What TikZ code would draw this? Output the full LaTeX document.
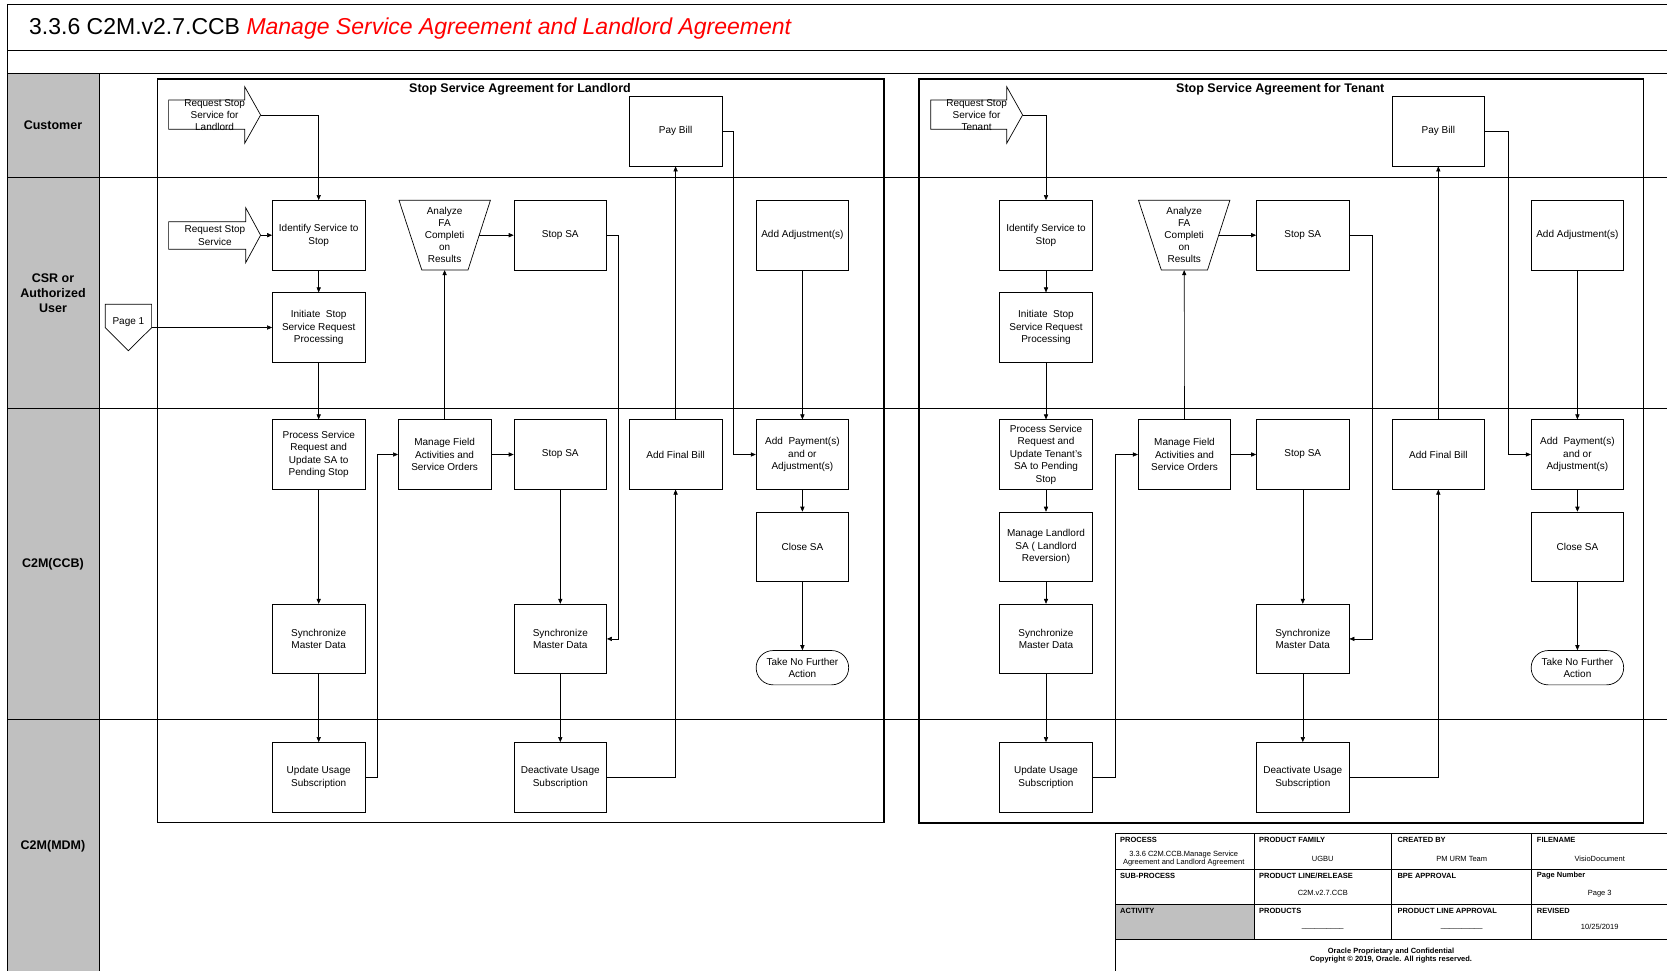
\documentclass[tikz,border=0pt]{standalone}
\usepackage{fontspec}
\setmainfont{Liberation Sans}
\usetikzlibrary{arrows.meta,calc}
\definecolor{hdrgray}{RGB}{192,192,192}
\begin{document}
\begin{tikzpicture}[x=1pt,y=-1pt,
  box/.style={draw, line width=0.7pt, minimum width=92.5pt, minimum height=69.5pt, inner sep=0pt, align=center, font=\fontsize{10}{12.5}\selectfont},
  txt/.style={inner sep=0pt, align=center, font=\fontsize{10}{12}\selectfont},
  shp/.style={draw, line width=0.7pt},
  arr/.style={-{Triangle[length=5pt,width=4.2pt]}, line width=0.6pt},
  lane/.style={line width=1pt},
  pool/.style={draw, line width=1.3pt},
  lanelbl/.style={inner sep=0pt, align=center, font=\bfseries\fontsize{12.5}{15}\selectfont},
  pooltitle/.style={inner sep=0pt, font=\bfseries\fontsize{12.5}{15}\selectfont},
  th/.style={inner sep=0pt, anchor=west, font=\bfseries\fontsize{7.5}{9}\selectfont},
  tv/.style={inner sep=0pt, align=center, font=\fontsize{7.5}{8.3}\selectfont},
  tbl/.style={line width=0.8pt}
]
\useasboundingbox (0,0) rectangle (1667,971);
\fill[white] (0,0) rectangle (1667,971);

% ---------- frame, title, lanes ----------
\fill[hdrgray] (7,73.3) rectangle (99.5,971);
\draw[lane] (7,4.3) -- (1667,4.3);
\draw[lane] (7,50.7) -- (1667,50.7);
\draw[lane] (7,73.3) -- (1667,73.3);
\draw[lane] (7,177.3) -- (1667,177.3);
\draw[lane] (7,408.3) -- (1667,408.3);
\draw[lane] (7,719.7) -- (1667,719.7);
\draw[lane] (7,4.3) -- (7,971);
\draw[lane] (99.5,73.3) -- (99.5,971);

\node[anchor=base west, inner sep=0pt, font=\fontsize{23}{27}\selectfont] (title) at (29,35)
  {3.3.6 C2M.v2.7.CCB \textcolor{red}{\itshape Manage Service Agreement and Landlord Agreement}};

\node[lanelbl] (lcust) at (53,125.3) {Customer};
\node[lanelbl] (lcsr) at (53,292.8) {CSR or\\Authorized\\User};
\node[lanelbl] (lccb) at (53,564) {C2M(CCB)};
\node[lanelbl] (lmdm) at (53,846) {C2M(MDM)};

% ---------- pools ----------
\draw[pool] (157.3,79) rectangle (884,822.5);
\draw[pool] (919,79) rectangle (1643.2,823);
\node[pooltitle] (p1t) at (520,89) {Stop Service Agreement for Landlord};
\node[pooltitle] (p2t) at (1280.3,89) {Stop Service Agreement for Tenant};

% ================= POOL 1 (Landlord) =================
% request arrows
\draw[shp] (168.6,100) -- (244.7,100) -- (244.7,86.7) -- (260.6,115) -- (244.7,143.3) -- (244.7,129.3) -- (168.6,129.3) -- cycle;
\node[txt] (reqL) at (214.6,115) {Request Stop\\Service for\\Landlord};
\coordinate (reqLtip) at (260.6,115);

\draw[shp] (168.6,221.7) -- (245.7,221.7) -- (245.7,207.7) -- (260.6,235.2) -- (245.7,262.7) -- (245.7,249.3) -- (168.6,249.3) -- cycle;
\node[txt, font=\fontsize{10}{13}\selectfont] (reqS) at (214.9,235.2) {Request Stop\\Service};
\coordinate (reqStip) at (260.6,235.2);

% off-page connector
\draw[shp] (105.3,304.3) -- (151.6,304.3) -- (151.6,327.7) -- (128.4,350.7) -- (105.3,327.7) -- cycle;
\node[txt] (page1) at (128.4,321.7) {Page 1};
\coordinate (p1r) at (151.6,327.5);

% boxes
\node[box] (identL) at (318.7,235.2) {Identify Service to\\Stop};
\node[box] (initL) at (318.7,327.5) {Initiate\ \ Stop\\Service Request\\Processing};
\node[txt, minimum width=92.5pt, minimum height=69.5pt] (anL) at (444.6,235.2) {Analyze\\FA\\Completi\\on\\Results};
\draw[shp] (399,200.3) -- (490.4,200.3) -- (468,270) -- (421.8,270) -- cycle;
\coordinate (anLr) at (479.2,235.2);
\node[box] (stopAL) at (560.3,235.2) {Stop SA};
\node[box] (payL) at (675.6,131.3) {Pay Bill};
\node[box] (adjL) at (802.4,235.2) {Add Adjustment(s)};

\node[box] (procL) at (318.7,454.5) {Process Service\\Request and\\Update SA to\\Pending Stop};
\node[box] (mfaL) at (444.6,454.5) {Manage Field\\Activities and\\Service Orders};
\node[box] (stopBL) at (560.3,454.5) {Stop SA};
\node[box] (afbL) at (675.6,454.5) {Add Final Bill};
\node[box] (addpL) at (802.4,454.5) {Add\ \ Payment(s)\\and or\\Adjustment(s)};
\node[box] (closeL) at (802.4,546.8) {Close SA};
\node[box] (sync1L) at (318.7,638.9) {Synchronize\\Master Data};
\node[box] (sync2L) at (560.3,638.9) {Synchronize\\Master Data};
\node[box, minimum height=34.3pt, rounded corners=17pt, font=\fontsize{10}{12}\selectfont] (takeL) at (802.4,667.7) {Take No Further\\Action};
\node[box] (updL) at (318.7,777.2) {Update Usage\\Subscription};
\node[box] (deaL) at (560.3,777.2) {Deactivate Usage\\Subscription};

% connectors
\draw[arr] (reqLtip) -| (identL.north);
\draw[arr] (reqStip) -- (identL.west);
\draw[arr] (identL) -- (initL);
\draw[arr] (p1r) -- (initL.west);
\draw[arr] (initL) -- (procL);
\draw[arr] (anLr) -- (stopAL.west);
\draw[arr] (mfaL.north) -- (anL.south);
\draw[arr] (mfaL) -- (stopBL);
\draw[arr] (procL) -- (sync1L);
\draw[arr] (sync1L) -- (updL);
\draw[arr] (updL.east) -- ++(11.5,0) |- (mfaL.west);
\draw[arr] (stopBL) -- (sync2L);
\draw[arr] (sync2L) -- (deaL);
\draw[arr] (stopAL.east) -- ++(11.3,0) |- (sync2L.east);
\draw[arr] (deaL.east) -| (afbL.south);
\draw[arr] (afbL) -- (payL);
\draw[arr] (payL.east) -- ++(11.3,0) |- (addpL.west);
\draw[arr] (adjL) -- (addpL);
\draw[arr] (addpL) -- (closeL);
\draw[arr] (closeL) -- (takeL);

% ================= POOL 2 (Tenant) =================
\draw[shp] (930.7,100) -- (1006.7,100) -- (1006.7,86.7) -- (1022.6,115) -- (1006.7,143.3) -- (1006.7,129.3) -- (930.7,129.3) -- cycle;
\node[txt] (reqT) at (976.6,115) {Request Stop\\Service for\\Tenant};
\coordinate (reqTtip) at (1022.6,115);

\node[box] (identT) at (1046,235.2) {Identify Service to\\Stop};
\node[box] (initT) at (1046,327.5) {Initiate\ \ Stop\\Service Request\\Processing};
\node[txt, minimum width=92.5pt, minimum height=69.5pt] (anT) at (1184.2,235.2) {Analyze\\FA\\Completi\\on\\Results};
\draw[shp] (1138.5,200.3) -- (1229.9,200.3) -- (1207.5,270) -- (1161.3,270) -- cycle;
\coordinate (anTr) at (1218.7,235.2);
\node[box] (stopAT) at (1302.8,235.2) {Stop SA};
\node[box] (payT) at (1438.3,131.3) {Pay Bill};
\node[box] (adjT) at (1577.4,235.2) {Add Adjustment(s)};

\node[box] (procT) at (1046,454.5) {Process Service\\Request and\\Update Tenant’s\\SA to Pending\\Stop};
\node[box] (mlsT) at (1046,546.8) {Manage Landlord\\SA ( Landlord\\Reversion)};
\node[box] (mfaT) at (1184.5,454.5) {Manage Field\\Activities and\\Service Orders};
\node[box] (stopBT) at (1302.8,454.5) {Stop SA};
\node[box] (afbT) at (1438.3,454.5) {Add Final Bill};
\node[box] (addpT) at (1577.4,454.5) {Add\ \ Payment(s)\\and or\\Adjustment(s)};
\node[box] (closeT) at (1577.4,546.8) {Close SA};
\node[box] (sync1T) at (1046,638.9) {Synchronize\\Master Data};
\node[box] (sync2T) at (1302.8,638.9) {Synchronize\\Master Data};
\node[box, minimum height=34.3pt, rounded corners=17pt, font=\fontsize{10}{12}\selectfont] (takeT) at (1577.4,667.7) {Take No Further\\Action};
\node[box] (updT) at (1046,777.2) {Update Usage\\Subscription};
\node[box] (deaT) at (1302.8,777.2) {Deactivate Usage\\Subscription};

\draw[arr] (reqTtip) -| (identT.north);
\draw[arr] (identT) -- (initT);
\draw[arr] (initT) -- (procT);
\draw[arr] (anTr) -- (stopAT.west);
\draw[arr] (mfaT.north) -- (anT.south);
\draw[arr] (mfaT) -- (stopBT);
\draw[arr] (procT) -- (mlsT);
\draw[arr] (mlsT) -- (sync1T);
\draw[arr] (sync1T) -- (updT);
\draw[arr] (updT.east) -- ++(22.6,0) |- (mfaT.west);
\draw[arr] (stopBT) -- (sync2T);
\draw[arr] (sync2T) -- (deaT);
\draw[arr] (stopAT.east) -- ++(22.9,0) |- (sync2T.east);
\draw[arr] (deaT.east) -| (afbT.south);
\draw[arr] (afbT) -- (payT);
\draw[arr] (payT.east) -- ++(23.2,0) |- (addpT.west);
\draw[arr] (adjT) -- (addpT);
\draw[arr] (addpT) -- (closeT);
\draw[arr] (closeT) -- (takeT);

% ================= title block table =================
\fill[hdrgray] (1115,904) rectangle (1254,939);
\draw[tbl] (1115,833.7) -- (1667,833.7);
\draw[tbl] (1115,869.7) -- (1667,869.7);
\draw[tbl] (1115,904) -- (1667,904);
\draw[tbl] (1115,939) -- (1667,939);
\draw[tbl] (1115,833.7) -- (1115,971);
\draw[tbl] (1254,833.7) -- (1254,939);
\draw[tbl] (1391.7,833.7) -- (1391.7,939);
\draw[tbl] (1531.7,833.7) -- (1531.7,939);

\node[th] (h11) at (1120,840.3) {PROCESS};
\node[th] (h12) at (1259,840.3) {PRODUCT FAMILY};
\node[th] (h13) at (1397.3,840.3) {CREATED BY};
\node[th] (h14) at (1536.7,840.3) {FILENAME};
\node[th] (h21) at (1120,875.7) {SUB-PROCESS};
\node[th] (h22) at (1259,875.7) {PRODUCT LINE/RELEASE};
\node[th] (h23) at (1397.3,875.7) {BPE APPROVAL};
\node[th] (h24) at (1536.7,875.7) {Page Number};
\node[th] (h31) at (1120,910.7) {ACTIVITY};
\node[th] (h32) at (1259,910.7) {PRODUCTS};
\node[th] (h33) at (1397.3,910.7) {PRODUCT LINE APPROVAL};
\node[th] (h34) at (1536.7,910.7) {REVISED};

\node[tv] (v11) at (1183.7,858.8) {3.3.6 C2M.CCB.Manage Service\\Agreement and Landlord Agreement};
\node[tv] (v12) at (1322.8,858.7) {UGBU};
\node[tv] (v13) at (1461.7,858.7) {PM URM Team};
\node[tv] (v14) at (1599.7,858.7) {VisioDocument};
\node[tv] (v22) at (1322.8,893) {C2M.v2.7.CCB};
\node[tv] (v24) at (1599.7,893.3) {Page 3};
\node[tv] (v32) at (1322.8,928.5) {\_\_\_\_\_\_\_\_\_\_};
\node[tv] (v33) at (1461.7,928.5) {\_\_\_\_\_\_\_\_\_\_};
\node[tv] (v34) at (1599.7,927.3) {10/25/2019};
\node[tv, font=\bfseries\fontsize{7.5}{7.7}\selectfont] (foot) at (1391,955.8) {Oracle Proprietary and Confidential\\Copyright © 2019, Oracle. All rights reserved.};
\end{tikzpicture}
\end{document}
